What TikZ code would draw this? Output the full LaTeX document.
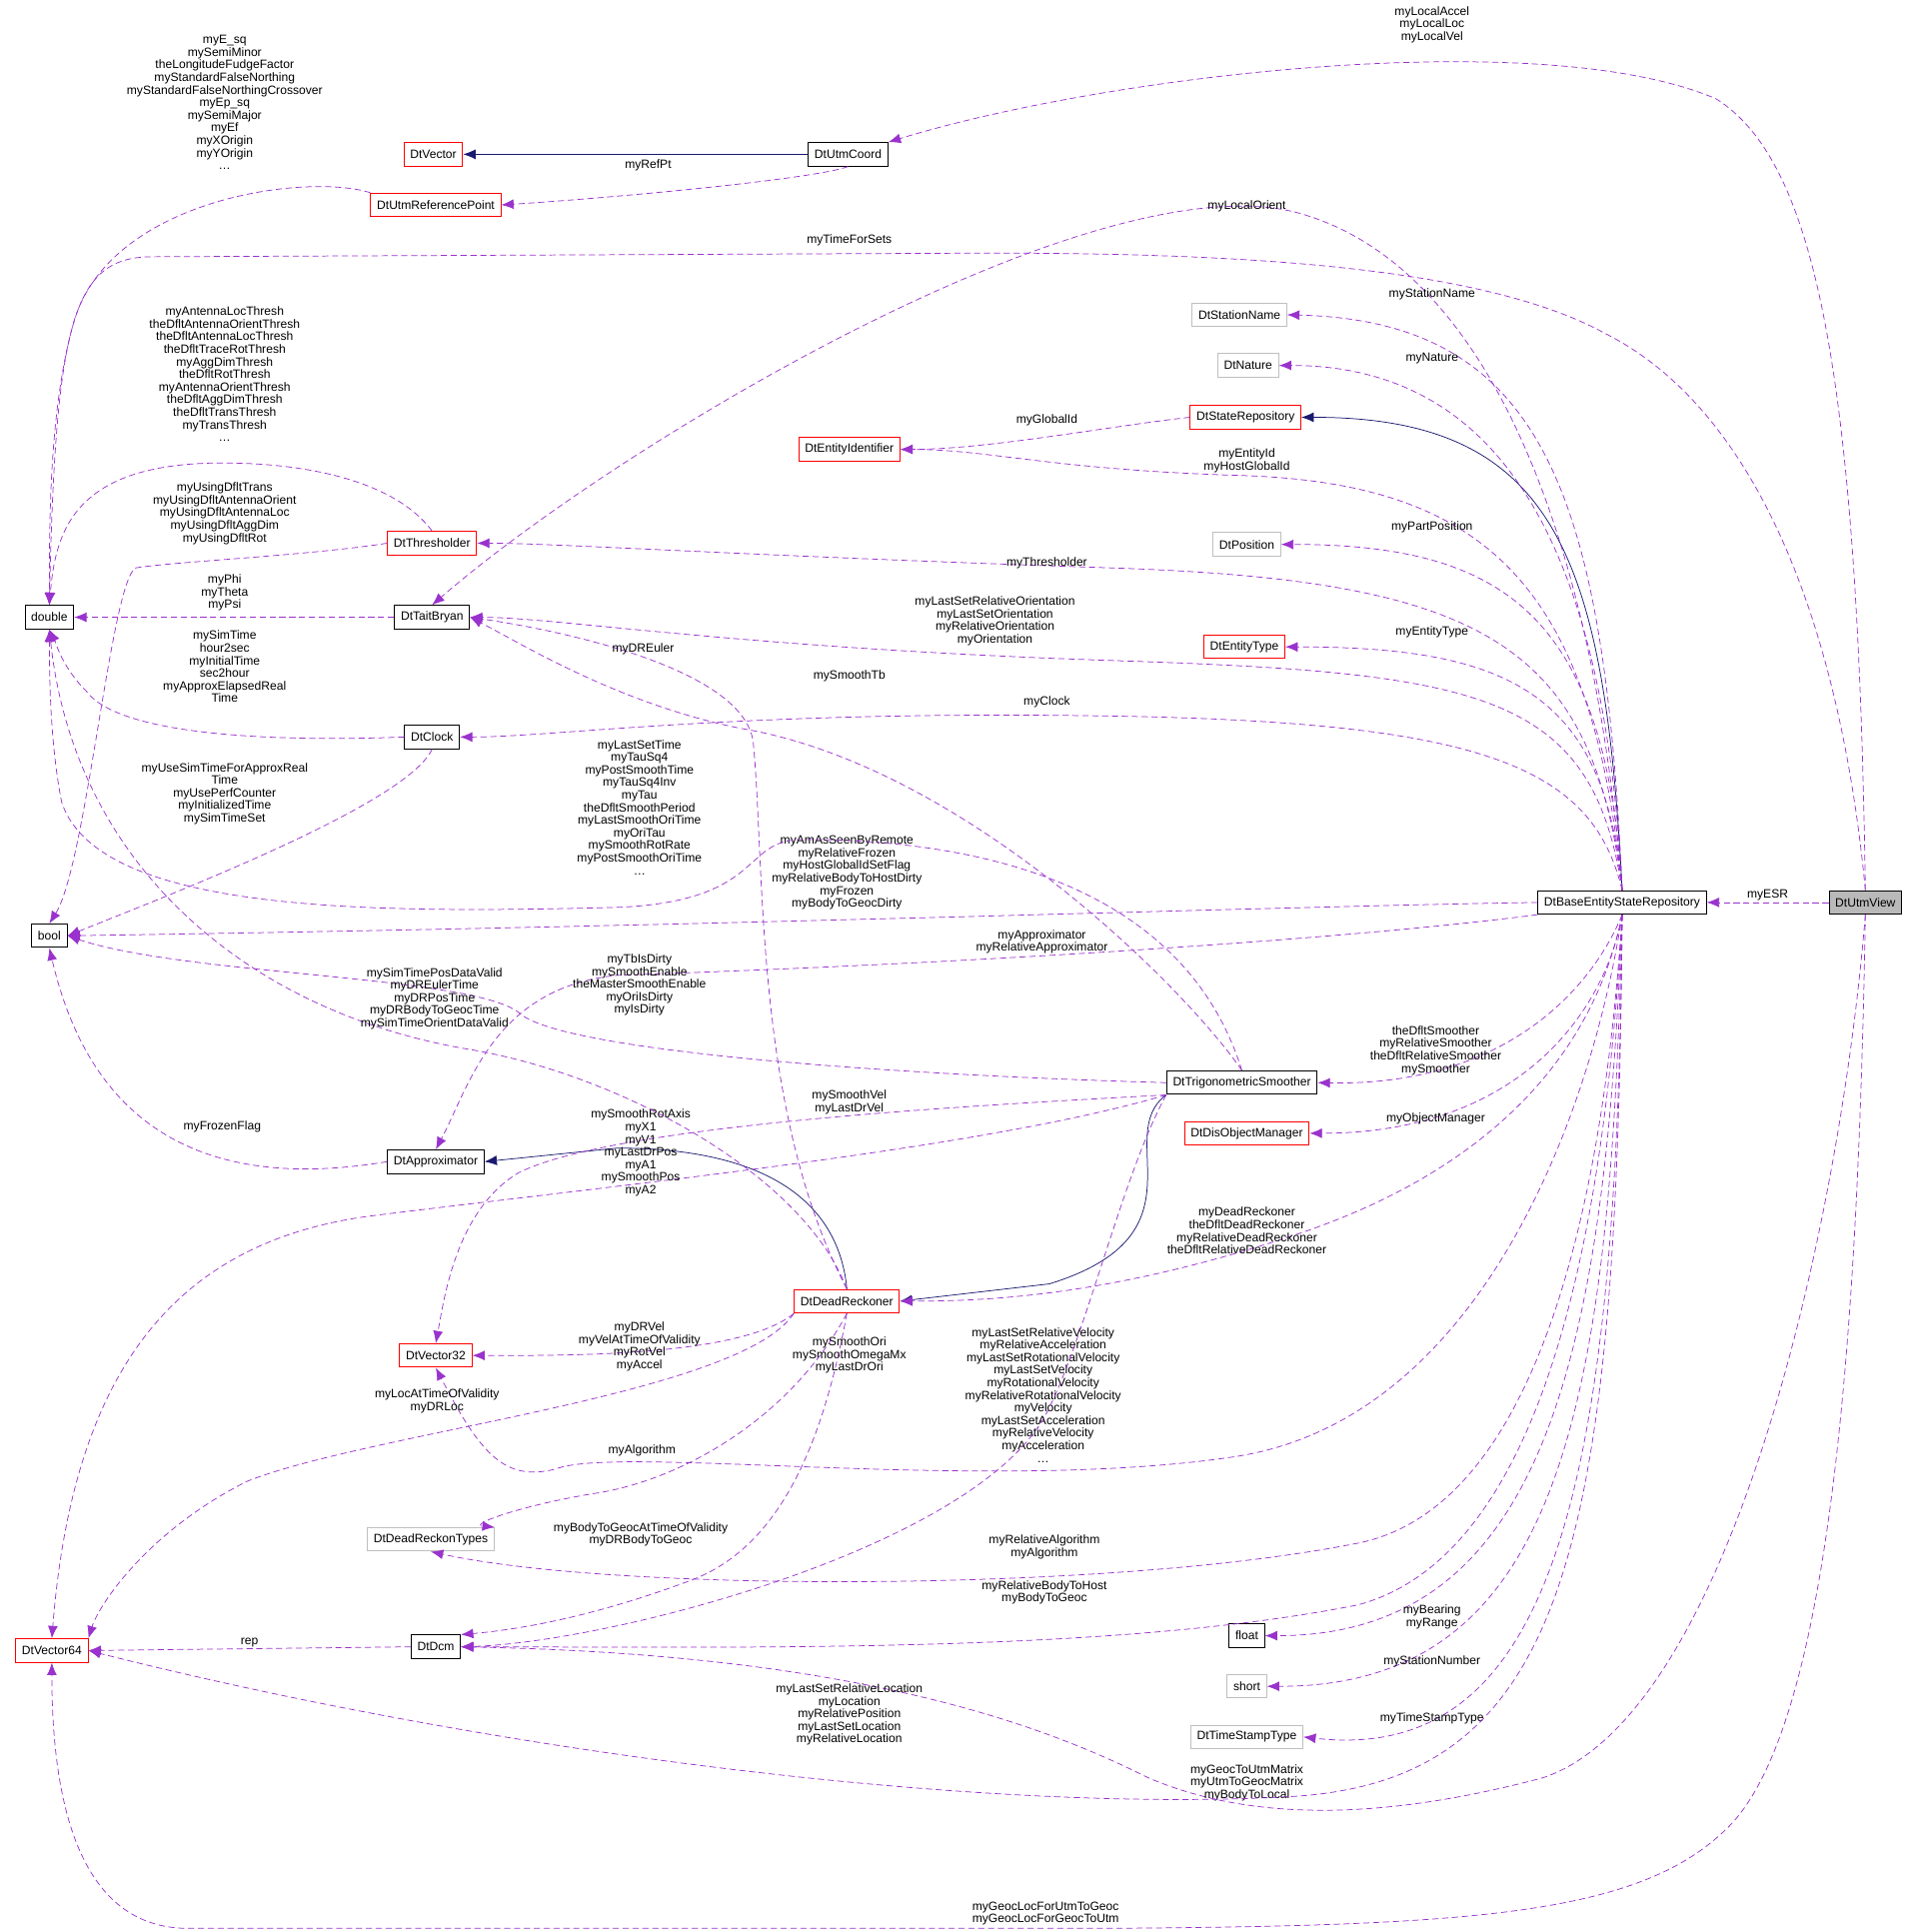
\documentclass[tikz,border=0pt]{standalone}
\usepackage{fontspec}
\setmainfont{Liberation Sans}
\usetikzlibrary{arrows.meta}
\definecolor{dep}{RGB}{154,50,205}
\definecolor{inhcol}{RGB}{25,25,112}
\begin{document}
\fontsize{9.8}{10.2}\selectfont
\begin{tikzpicture}[x=1pt,y=-1pt,
  cls/.style={draw=black, thick, rectangle, inner xsep=5pt, inner ysep=2pt, minimum height=19pt, font=\fontsize{9.8}{10.2}\selectfont},
  clsred/.style={cls, draw=red},
  clsgray/.style={cls, draw=gray!50},
  cur/.style={cls, fill=gray!55},
  lbl/.style={align=center, inner sep=0pt, font=\fontsize{9.8}{10.2}\selectfont},
  use/.style={draw=dep, semithick, dash pattern=on 5pt off 3pt, -{Latex[length=10pt,width=8pt]}},
  inh/.style={draw=inhcol, semithick, -{Latex[length=10pt,width=8pt]}}]

\useasboundingbox (0,0) rectangle (1550,1565);

%classes
\node[cur] (utmview) at (1511,731) {DtUtmView};
\node[cls] (besr) at (1314,731) {DtBaseEntityStateRepository};
\node[cls] (utmcoord) at (687,125) {DtUtmCoord};
\node[clsred] (vector) at (351,125) {DtVector};
\node[clsred] (utmref) at (353,166) {DtUtmReferencePoint};
\node[cls] (double) at (40,500) {double};
\node[cls] (bool) at (40,758) {bool};
\node[clsgray] (stationname) at (1004,255) {DtStationName};
\node[clsgray] (nature) at (1011,296) {DtNature};
\node[clsred] (staterepo) at (1009,338) {DtStateRepository};
\node[clsred] (entityid) at (688,364) {DtEntityIdentifier};
\node[clsgray] (position) at (1010,441) {DtPosition};
\node[clsred] (thresholder) at (350,440) {DtThresholder};
\node[cls] (taitbryan) at (350,500) {DtTaitBryan};
\node[clsred] (entitytype) at (1008,524) {DtEntityType};
\node[cls] (clock) at (350,597) {DtClock};
\node[cls] (smoother) at (1006,877) {DtTrigonometricSmoother};
\node[clsred] (objmgr) at (1010,918) {DtDisObjectManager};
\node[cls] (approx) at (353,941) {DtApproximator};
\node[clsred] (deadreck) at (686,1054) {DtDeadReckoner};
\node[clsred] (vec32) at (353,1098) {DtVector32};
\node[clsgray] (drtypes) at (349,1247) {DtDeadReckonTypes};
\node[cls] (float) at (1010,1325) {float};
\node[clsgray] (short) at (1010,1366) {short};
\node[clsgray] (tstype) at (1010,1407) {DtTimeStampType};
\node[clsred] (vec64) at (42,1337) {DtVector64};
\node[cls] (dcm) at (353,1334) {DtDcm};

%inheritance
\draw[inh] (utmcoord.west) -- (vector.east);
\draw[inh] (besr.north) .. controls (1300,450) and (1260,338) .. (staterepo.east);
\draw[inh] (smoother.south west) .. controls (900,920) and (980,1000) .. (850,1040) -- (deadreck.east);
\draw[inh] (deadreck.north) .. controls (680,980) and (630,930) .. (500,930) -- (approx.east);

%members of DtUtmView
\draw[use] (utmview.west) -- node[lbl, above=1pt] {myESR} (besr.east);
\draw[use] (utmview.north) .. controls (1505,300) and (1470,130) .. (1390,80) .. controls (1250,20) and (900,60) .. (utmcoord.north east);
\node[lbl] at (1160,20) {myLocalAccel\\myLocalLoc\\myLocalVel};
\draw[use] (utmview.north) .. controls (1490,500) and (1420,330) .. (1300,270) .. controls (1200,215) and (1000,205) .. (800,205) -- (120,208) .. controls (60,210) and (45,260) .. (double.north);
\node[lbl] at (688,195) {myTimeForSets};
\draw[use] (utmview.south) .. controls (1505,1100) and (1480,1400) .. (1400,1480) .. controls (1330,1550) and (1200,1560) .. (900,1562) -- (150,1562) .. controls (60,1560) and (42,1450) .. (vec64.south);
\node[lbl] at (847,1550) {myGeocLocForUtmToGeoc\\myGeocLocForGeocToUtm};
\draw[use] (utmview.south) .. controls (1490,1000) and (1400,1390) .. (1250,1440) .. controls (1100,1480) and (1000,1470) .. (930,1440) .. controls (850,1400) and (700,1340) .. (dcm.east);
\node[lbl] at (1010,1444) {myGeocToUtmMatrix\\myUtmToGeocMatrix\\myBodyToLocal};

%coord
\draw[use] (utmcoord.south) .. controls (660,145) and (500,160) .. (utmref.east);
\node[lbl] at (525,134) {myRefPt};
\draw[use] (utmref.north west) .. controls (250,140) and (90,160) .. (60,260) .. controls (40,330) and (40,420) .. (double.north);
\node[lbl] at (182,83) {myE\_sq\\mySemiMinor\\theLongitudeFudgeFactor\\myStandardFalseNorthing\\myStandardFalseNorthingCrossover\\myEp\_sq\\mySemiMajor\\myEf\\myXOrigin\\myYOrigin\\\dots};

%members of DtBaseEntityStateRepository
\draw[use] (besr.north) .. controls (1290,420) and (1200,220) .. (1060,175) .. controls (900,120) and (500,360) .. (taitbryan.north);
\node[lbl] at (1010,167) {myLocalOrient};
\draw[use] (besr.north) .. controls (1300,400) and (1250,260) .. (stationname.east);
\node[lbl] at (1160,238) {myStationName};
\draw[use] (besr.north) .. controls (1300,450) and (1220,296) .. (nature.east);
\node[lbl] at (1160,290) {myNature};
\draw[use] (staterepo.west) .. controls (900,345) and (800,364) .. (entityid.east);
\node[lbl] at (848,340) {myGlobalId};
\draw[use] (besr.north) .. controls (1290,470) and (1200,390) .. (1000,385) .. controls (850,380) and (800,364) .. (entityid.east);
\node[lbl] at (1010,373) {myEntityId\\myHostGlobalId};
\draw[use] (besr.north) .. controls (1300,500) and (1220,441) .. (position.east);
\node[lbl] at (1160,427) {myPartPosition};
\draw[use] (besr.north) .. controls (1290,520) and (1200,470) .. (900,460) .. controls (600,450) and (450,440) .. (thresholder.east);
\node[lbl] at (848,456) {myThresholder};
\draw[use] (thresholder.north) .. controls (320,390) and (250,375) .. (180,375) .. controls (60,375) and (45,430) .. (double.north);
\node[lbl] at (182,303) {myAntennaLocThresh\\theDfltAntennaOrientThresh\\theDfltAntennaLocThresh\\theDfltTraceRotThresh\\myAggDimThresh\\theDfltRotThresh\\myAntennaOrientThresh\\theDfltAggDimThresh\\theDfltTransThresh\\myTransThresh\\\dots};
\draw[use] (thresholder.west) .. controls (250,450) and (140,455) .. (110,460) .. controls (90,470) and (70,700) .. (bool.north);
\node[lbl] at (182,416) {myUsingDfltTrans\\myUsingDfltAntennaOrient\\myUsingDfltAntennaLoc\\myUsingDfltAggDim\\myUsingDfltRot};
\draw[use] (taitbryan.west) -- (double.east);
\node[lbl] at (182,480) {myPhi\\myTheta\\myPsi};
\draw[use] (besr.north) .. controls (1290,560) and (1200,545) .. (900,535) .. controls (600,525) and (450,500) .. (taitbryan.east);
\node[lbl] at (806,503) {myLastSetRelativeOrientation\\myLastSetOrientation\\myRelativeOrientation\\myOrientation};
\draw[use] (besr.north) .. controls (1300,560) and (1220,524) .. (entitytype.east);
\node[lbl] at (1160,512) {myEntityType};
\draw[use] (besr.north) .. controls (1290,620) and (1200,585) .. (900,580) .. controls (600,575) and (450,597) .. (clock.east);
\node[lbl] at (848,569) {myClock};
\draw[use] (clock.west) .. controls (250,600) and (100,600) .. (70,560) .. controls (50,540) and (45,520) .. (double.south);
\node[lbl] at (182,540) {mySimTime\\hour2sec\\myInitialTime\\sec2hour\\myApproxElapsedReal\\Time};
\draw[use] (clock.south) .. controls (330,650) and (150,720) .. (bool.east);
\node[lbl] at (182,643) {myUseSimTimeForApproxReal\\Time\\myUsePerfCounter\\myInitializedTime\\mySimTimeSet};
\draw[use] (besr.west) .. controls (1000,735) and (600,750) .. (bool.east);
\node[lbl] at (686,707) {myAmAsSeenByRemote\\myRelativeFrozen\\myHostGlobalIdSetFlag\\myRelativeBodyToHostDirty\\myFrozen\\myBodyToGeocDirty};
\draw[use] (besr.south west) .. controls (1100,760) and (800,780) .. (500,790) .. controls (400,800) and (380,880) .. (approx.north);
\node[lbl] at (844,763) {myApproximator\\myRelativeApproximator};
\draw[use] (besr.south) .. controls (1290,800) and (1220,880) .. (smoother.east);
\node[lbl] at (1163,851) {theDfltSmoother\\myRelativeSmoother\\theDfltRelativeSmoother\\mySmoother};
\draw[use] (besr.south) .. controls (1300,820) and (1230,918) .. (objmgr.east);
\node[lbl] at (1163,906) {myObjectManager};
\draw[use] (besr.south) .. controls (1290,860) and (1200,950) .. (1050,1000) .. controls (900,1050) and (800,1054) .. (deadreck.east);
\node[lbl] at (1010,997) {myDeadReckoner\\theDfltDeadReckoner\\myRelativeDeadReckoner\\theDfltRelativeDeadReckoner};
\draw[use] (besr.south) .. controls (1290,900) and (1200,1150) .. (1000,1180) .. controls (800,1210) and (500,1170) .. (450,1190) .. controls (410,1200) and (390,1180) .. (vec32.south);
\node[lbl] at (845,1130) {myLastSetRelativeVelocity\\myRelativeAcceleration\\myLastSetRotationalVelocity\\myLastSetVelocity\\myRotationalVelocity\\myRelativeRotationalVelocity\\myVelocity\\myLastSetAcceleration\\myRelativeVelocity\\myAcceleration\\\dots};
\draw[use] (besr.south) .. controls (1300,960) and (1250,1220) .. (1100,1250) .. controls (900,1290) and (500,1290) .. (drtypes.south);
\node[lbl] at (846,1253) {myRelativeAlgorithm\\myAlgorithm};
\draw[use] (besr.south) .. controls (1300,1000) and (1250,1260) .. (1100,1300) .. controls (900,1340) and (600,1334) .. (dcm.east);
\node[lbl] at (846,1290) {myRelativeBodyToHost\\myBodyToGeoc};
\draw[use] (besr.south) .. controls (1300,1100) and (1250,1325) .. (float.east);
\node[lbl] at (1160,1310) {myBearing\\myRange};
\draw[use] (besr.south) .. controls (1305,1150) and (1260,1366) .. (short.east);
\node[lbl] at (1160,1346) {myStationNumber};
\draw[use] (besr.south) .. controls (1310,1200) and (1260,1430) .. (tstype.east);
\node[lbl] at (1160,1392) {myTimeStampType};
\draw[use] (besr.south) .. controls (1310,1250) and (1270,1440) .. (1050,1455) .. controls (800,1470) and (400,1420) .. (vec64.east);
\node[lbl] at (688,1389) {myLastSetRelativeLocation\\myLocation\\myRelativePosition\\myLastSetLocation\\myRelativeLocation};

%members of DtTrigonometricSmoother
\draw[use] (smoother.north) .. controls (960,800) and (780,620) .. (600,590) .. controls (500,570) and (420,520) .. (taitbryan.east);
\node[lbl] at (688,548) {mySmoothTb};
\draw[use] (smoother.north) .. controls (960,720) and (800,680) .. (650,680) .. controls (600,680) and (620,730) .. (500,735) .. controls (300,740) and (80,740) .. (50,650) .. controls (40,600) and (40,540) .. (double.south);
\node[lbl] at (518,654) {myLastSetTime\\myTauSq4\\myPostSmoothTime\\myTauSq4Inv\\myTau\\theDfltSmoothPeriod\\myLastSmoothOriTime\\myOriTau\\mySmoothRotRate\\myPostSmoothOriTime\\\dots};
\draw[use] (smoother.west) .. controls (700,870) and (450,850) .. (420,820) .. controls (380,790) and (150,790) .. (bool.east);
\node[lbl] at (518,798) {myTbIsDirty\\mySmoothEnable\\theMasterSmoothEnable\\myOriIsDirty\\myIsDirty};
\draw[use] (smoother.south west) .. controls (800,895) and (500,910) .. (420,950) .. controls (370,980) and (360,1050) .. (vec32.north);
\node[lbl] at (688,893) {mySmoothVel\\myLastDrVel};
\draw[use] (smoother.south west) .. controls (800,930) and (500,960) .. (300,985) .. controls (150,1005) and (60,1100) .. (vec64.north);
\node[lbl] at (519,934) {mySmoothRotAxis\\myX1\\myV1\\myLastDrPos\\myA1\\mySmoothPos\\myA2};
\draw[use] (smoother.south west) .. controls (910,950) and (880,1080) .. (850,1140) .. controls (800,1250) and (500,1330) .. (dcm.east);
\node[lbl] at (688,1098) {mySmoothOri\\mySmoothOmegaMx\\myLastDrOri};

%members of DtDeadReckoner
\draw[use] (deadreck.north) .. controls (610,900) and (620,700) .. (610,600) .. controls (600,540) and (450,510) .. (taitbryan.east);
\node[lbl] at (521,526) {myDREuler};
\draw[use] (deadreck.north) .. controls (650,950) and (500,870) .. (380,850) .. controls (200,820) and (60,700) .. (double.south);
\node[lbl] at (352,809) {mySimTimePosDataValid\\myDREulerTime\\myDRPosTime\\myDRBodyToGeocTime\\mySimTimeOrientDataValid};
\draw[use] (approx.west) .. controls (200,960) and (80,940) .. (bool.south);
\node[lbl] at (180,913) {myFrozenFlag};
\draw[use] (deadreck.south west) .. controls (600,1100) and (450,1098) .. (vec32.east);
\node[lbl] at (518,1091) {myDRVel\\myVelAtTimeOfValidity\\myRotVel\\myAccel};
\draw[use] (deadreck.south west) .. controls (600,1130) and (300,1160) .. (200,1200) .. controls (120,1240) and (80,1300) .. (vec64.north east);
\node[lbl] at (354,1135) {myLocAtTimeOfValidity\\myDRLoc};
\draw[use] (deadreck.south) .. controls (640,1150) and (550,1200) .. (480,1210) .. controls (420,1220) and (380,1235) .. (drtypes.north east);
\node[lbl] at (520,1175) {myAlgorithm};
\draw[use] (deadreck.south) .. controls (670,1150) and (640,1250) .. (560,1280) .. controls (480,1310) and (420,1320) .. (dcm.north east);
\node[lbl] at (519,1243) {myBodyToGeocAtTimeOfValidity\\myDRBodyToGeoc};
\draw[use] (dcm.west) -- node[lbl, above=1pt] {rep} (vec64.east);

\end{tikzpicture}
\end{document}
